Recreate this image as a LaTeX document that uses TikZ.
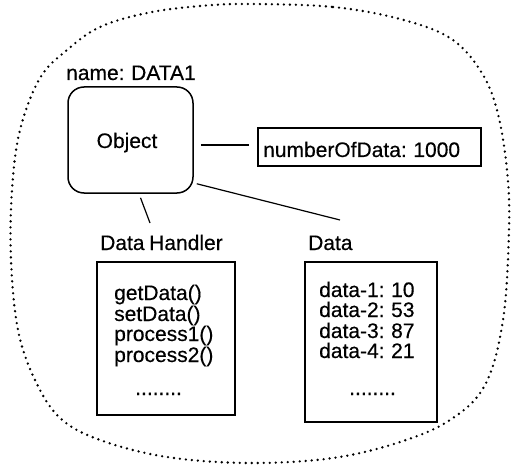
\documentclass[tikz,border=0pt]{standalone}
\usepackage{fontspec}
\setmainfont{Liberation Sans}[FakeBold=0.4,WordSpace=0.8]
\begin{document}
\begin{tikzpicture}[x=1pt,y=-1pt,
  txt/.style={inner sep=0pt,font=\fontsize{21}{22}\selectfont},
  frame/.style={draw,line width=1.5pt,inner sep=0pt},
  link/.style={line width=1.2pt},
  boundary/.style={line width=2.6pt,line cap=round,dash pattern=on 0pt off 6pt}]
\useasboundingbox (0,0) rectangle (514,468);

% dotted outline around the whole object
\draw[boundary] plot[smooth cycle,tension=0.6] coordinates {
  (250,4) (333,7) (400,19) (450,38) (480,70) (497,110) (507,170) (509,230)
  (503,320) (485,385) (450,420) (400,442) (333,458) (250,463) (167,457)
  (100,440) (60,418) (35,380) (18,330) (11,260) (12,190) (20,130) (40,78)
  (67,50) (100,27) (147,13) (200,6)};

% the object itself
\node[frame,rounded corners=16pt,minimum width=125pt,minimum height=106pt] (obj) at (130.5,140) {};
\node[txt,anchor=base] (objtxt) at (127,148) {Object};
\node[txt,anchor=base west] (name) at (66,80) {name: DATA1};

% attribute
\node[frame,minimum width=223pt,minimum height=38pt] (num) at (369.5,147) {};
\node[txt,anchor=base west] (numtxt) at (263,157) {numberOfData: 1000};

% handler part
\node[txt,anchor=base west] (dhlab) at (100,250) {Data Handler};
\node[frame,minimum width=138pt,minimum height=153pt] (dh) at (166,338.5) {};
\node[txt,anchor=base west] (m1) at (114,300) {getData()};
\node[txt,anchor=base west] (m2) at (114,321) {setData()};
\node[txt,anchor=base west] (m3) at (114,341) {process1()};
\node[txt,anchor=base west] (m4) at (114,362) {process2()};
\node[txt,anchor=base west] (m5) at (135,395) {........};

% data part
\node[txt,anchor=base west] (dlab) at (308,250) {Data};
\node[frame,minimum width=132pt,minimum height=160pt] (data) at (371,342) {};
\node[txt,anchor=base west] (d1) at (319,297) {data-1: 10};
\node[txt,anchor=base west] (d2) at (319,317) {data-2: 53};
\node[txt,anchor=base west] (d3) at (319,338) {data-3: 87};
\node[txt,anchor=base west] (d4) at (319,358) {data-4: 21};
\node[txt,anchor=base west] (d5) at (349,395) {........};

% connectors
\coordinate (objR) at ([xshift=7pt]obj.east |- 0,145);
\coordinate (numL) at ([xshift=-8pt]num.west |- 0,145);
\draw[link] (objR) -- (numL);
\coordinate (objSE) at ([shift={(3,-10)}]obj.south east);
\coordinate (dTop) at ([shift={(32,-30)}]dlab.base west);
\draw[link] (objSE) -- (dTop);
\coordinate (objS) at ([shift={(10,4)}]obj.south);
\coordinate (hTop) at ([shift={(50,-27)}]dhlab.base west);
\draw[link] (objS) -- (hTop);
\end{tikzpicture}
\end{document}
